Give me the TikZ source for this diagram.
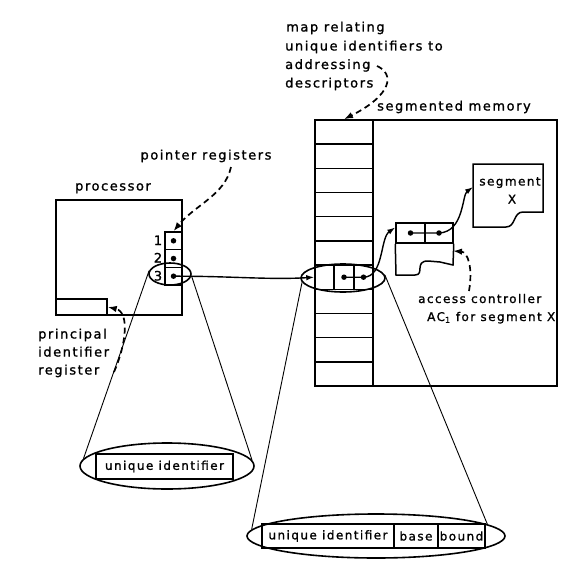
\documentclass[tikz,border=0pt]{standalone}
\usepackage{fontspec}
\setmainfont{DejaVu Sans}[LetterSpace=12,FakeBold=1.2]
\usetikzlibrary{shapes.geometric,arrows.meta}
\tikzset{
  box/.style={draw, rectangle, line width=1.5pt, inner sep=0pt},
  lbl/.style={inner sep=0pt, font=\fontsize{13}{16}\selectfont},
  slbl/.style={inner sep=0pt, font=\fontsize{12}{15}\selectfont},
  pdot/.style={circle, fill=black, inner sep=0pt, minimum size=5.5pt},
  ptr/.style={line width=1.4pt, -{Latex[length=8pt,width=5.5pt]}},
  dptr/.style={line width=1.7pt, dash pattern=on 6pt off 4pt, -{Latex[length=9pt,width=6.5pt]}},
  cone/.style={line width=0.9pt},
  lens/.style={draw, ellipse, line width=1.6pt, inner sep=0pt},
}
\begin{document}
\begin{tikzpicture}[x=1pt,y=-1pt]
\useasboundingbox (0,0) rectangle (572,578);

% processor
\node[box, minimum width=126pt, minimum height=115pt] (proc) at (119,257.5) {};
\node[box, minimum width=51pt, minimum height=16pt] (pir) at (81.5,307) {};
\node[box, fill=white, minimum width=17pt, minimum height=17.7pt] (r1) at (173.5,240.8) {};
\node[box, fill=white, minimum width=17pt, minimum height=17.7pt] (r2) at (173.5,258.5) {};
\node[box, fill=white, minimum width=17pt, minimum height=17.7pt] (r3) at (173.5,276.2) {};
\node[pdot] (d1) at (r1) {};
\node[pdot] (d2) at (r2) {};
\node[pdot] (d3) at (r3) {};
\node[lbl, anchor=base] (n1) at (158,245) {1};
\node[lbl, anchor=base] (n2) at (158,262.5) {2};
\node[lbl, anchor=base] (n3) at (158,280.5) {3};

% labels left
\node[lbl, anchor=base] (proclbl) at (113,190.5) {processor};
\node[lbl, anchor=base] (ptrlbl) at (206,159.5) {pointer registers};
\node[lbl, anchor=base west] (pl1) at (38,338.5) {principal};
\node[lbl, anchor=base west] (pl2) at (38,356.5) {identifier};
\node[lbl, anchor=base west] (pl3) at (38,374.5) {register};

% segmented memory
\node[box, minimum width=242pt, minimum height=266pt] (mem) at (436,253) {};
\foreach \k in {0,1,2,3,4,5,7,8,9,10}{
  \node[box, minimum width=58pt, minimum height=24.18pt] (m\k) at (344,{120+24.18*(\k+0.5)}) {};
}
\node[box, minimum width=19pt, minimum height=24.18pt] (ma) at (324.5,277.2) {};
\node[box, minimum width=20pt, minimum height=24.18pt] (mb) at (344,277.2) {};
\node[box, minimum width=19pt, minimum height=24.18pt] (mc) at (363.5,277.2) {};
\node[pdot] (db) at (mb) {};
\node[pdot] (dc) at (mc) {};

\node[lbl, anchor=base west] (memlbl) at (377,110.5) {segmented memory};
\node[lbl, anchor=base west] (ml1) at (286,31.5) {map relating};
\node[lbl, anchor=base west] (ml2) at (285,50.5) {unique identifiers to};
\node[lbl, anchor=base west] (ml3) at (285,69) {addressing};
\node[lbl, anchor=base west] (ml4) at (285,87.5) {descriptors};

% access controller box
\node[box, minimum width=29pt, minimum height=20pt] (acL) at (410.5,233) {};
\node[box, minimum width=28pt, minimum height=20pt] (acR) at (439,233) {};
\draw[line width=1.5pt] (acL.south west) -- (396,275) -- (415,275)
  .. controls (425,275) and (414,261) .. (428,261) -- (440,262) -- (453,265) -- (acR.south east);
\node[pdot] (acd1) at (acL) {};
\node[pdot] (acd2) at (acR) {};
\coordinate (acE) at (453,251);

% segment X box
\draw[line width=1.5pt] (473,227) -- (473,164) -- (543,164) -- (543,212) -- (523,212)
  .. controls (513,212) and (516,227) .. (506,227) -- cycle;
\coordinate (segW) at (473,187);
\node[slbl, anchor=base] (seglbl) at (510,185.5) {segment};
\node[slbl, anchor=base] (seglbl2) at (512,203.5) {X};

\node[slbl, anchor=base west] (acl1) at (418,303) {access controller};
\node[slbl, anchor=base west] (acl2) at (427,321) {AC\textsubscript{1} for segment X};

% lenses
\node[lens, minimum width=42pt, minimum height=22pt] (e1) at (170,274) {};
\node[lens, minimum width=84pt, minimum height=28pt] (e2) at (343,278) {};
\node[lens, minimum width=174pt, minimum height=46pt] (E3) at (167,466) {};
\node[lens, minimum width=258pt, minimum height=44pt] (E4) at (376,536) {};

\node[box, line width=1.3pt, minimum width=137pt, minimum height=25pt, slbl] (uid1) at (164.5,466.5) {unique identifier};
\node[box, line width=1.3pt, minimum width=132pt, minimum height=24pt, slbl] (uid2) at (328,536) {unique identifier};
\node[box, line width=1.3pt, minimum width=44pt, minimum height=24pt, slbl] (base) at (416,536) {base};
\node[box, line width=1.3pt, minimum width=47pt, minimum height=24pt, slbl] (bound) at (461.5,536) {bound};

% cones
\draw[cone] (e1.171) -- (E3.175);
\draw[cone] (e1.-5) -- (E3.4);
\draw[cone] (e2.186) -- (E4.177);
\draw[cone] (e2.4) -- (E4.6);

% pointers
\draw[ptr] (d3.center) .. controls (230,276) and (270,280) .. (ma.west);
\draw[ptr] (db.center) -- (dc.center) .. controls (384,277) and (380,238) .. (acL.160);
\draw[ptr] (acd1.center) -- (acd2.center) .. controls (464,232) and (462,195) .. (segW);

% dashed label arrows
\coordinate (ptrtail) at (231,167);
\draw[dptr] (ptrtail) .. controls (225,195) and (195,205) .. (r1.north);
\coordinate (pirtail) at (114,372);
\draw[dptr] (pirtail) .. controls (126,345) and (130,312) .. (pir.east);
\coordinate (maptail) at (377,66);
\draw[dptr] (maptail) .. controls (395,74) and (392,95) .. (m0.north);
\coordinate (actail) at (469,291);
\draw[dptr] (actail) .. controls (473,268) and (468,252) .. (acE);
\end{tikzpicture}
\end{document}
